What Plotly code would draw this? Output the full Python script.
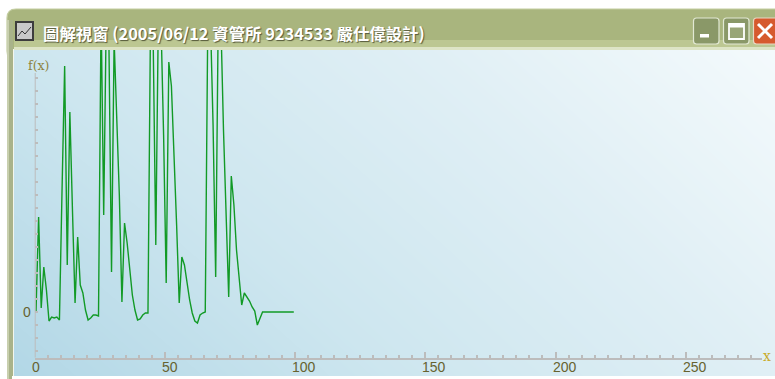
import plotly.graph_objects as go

W, H = 775, 379
sample_x = [i + 0.5 for i in range(100)]
sample_y = [0, 95, 4, 45, 22, -9, -5, -6, -5, -8,
            122, 246, 47, 200, 102, 9, 75, 27, 19, 2,
            -8, -6, -3, -3, -4, 300, 97, 300, 270, 40,
            272, 197, 117, 10, 89, 69, 42, 17, 2, -8,
            -7, -3, -1, -1, 300, 272, 67, 300, 290, 177,
            29, 250, 226, 162, 87, 9, 55, 47, 27, 12,
            -1, -9, -11, -3, -1, 0, 300, 292, 187, 35,
            300, 290, 182, 87, 15, 136, 107, 62, 37, 7,
            19, 15, 11, 5, 1, -13, -6, 0, 0, 0,
            0, 0, 0, 0, 0, 0, 0, 0, 0, 0]
x_major = [0, 50, 100, 150, 200, 250]
x_labels = ["0", "50", "100", "150", "200", "250"]
y_ticks = [-39, -26, -13, 0, 13, 26, 39, 52, 65, 78, 91, 104, 117, 130, 143, 156, 169, 182, 195, 208, 221, 234]
title = "圖解視窗 (2005/06/12 資管所 9234533 嚴仕偉設計)"

def px(x): return x / W
def py(y): return 1 - y / H
def rect(x0, y0, x1, y1, fill, line=None, lw=0, layer="below"):
    return dict(type="rect", xref="paper", yref="paper", x0=px(x0), x1=px(x1), y0=py(y0), y1=py(y1),
                fillcolor=fill, line=dict(color=line or fill, width=lw), layer=layer)
def seg(x0, y0, x1, y1, color, lw=1, layer="above"):
    return dict(type="line", xref="paper", yref="paper", x0=px(x0), x1=px(x1), y0=py(y0), y1=py(y1),
                line=dict(color=color, width=lw), layer=layer)
def rounded(x0, y0, x1, y1, r, fill, line, lw=1.2, layer="above"):
    a, b, c, d = px(x0), px(x1), py(y0), py(y1)
    rx, ry = r / W, r / H
    p = (f"M{a+rx},{c} L{b-rx},{c} Q{b},{c} {b},{c-ry} L{b},{d+ry} Q{b},{d} {b-rx},{d} "
         f"L{a+rx},{d} Q{a},{d} {a},{d+ry} L{a},{c-ry} Q{a},{c} {a+rx},{c} Z")
    return dict(type="path", xref="paper", yref="paper", path=p, fillcolor=fill, line=dict(color=line, width=lw), layer=layer)

fig = go.Figure()
fig.add_trace(go.Heatmap(z=[[0, 0.7], [0.35, 1]], x=[0, 1], y=[0, 1], zsmooth="best", showscale=False,
                         hoverinfo="skip", zmin=0, zmax=1,
                         colorscale=[[0, "#b2d7e6"], [0.35, "#cde6ef"], [0.7, "#e0eff5"], [1, "#f4fafc"]],
                         xaxis="x", yaxis="y"))
fig.add_trace(go.Scatter(x=sample_x, y=sample_y, mode="lines", line=dict(color="#129a26", width=1.4),
                         xaxis="x2", yaxis="y2", hoverinfo="skip"))

x0_px, x1_px, ytop, ybot = 34.7, 762.0, 50.0, 357.7
label_font = dict(family="Liberation Sans", size=14, color="#66622f")
annots = [
    dict(x=v, y=py(367), xref="x2", yref="paper", xanchor="left", yanchor="middle", xshift=-5, showarrow=False,
         text=t, font=label_font)
    for v, t in zip(x_major, x_labels)
]
annots += [
    dict(x=px(26.5), y=0, xref="paper", yref="y2", xanchor="center", yanchor="middle", showarrow=False,
         text="0", font=label_font),
    dict(x=px(41), y=py(32.5), xref="paper", yref="paper", xanchor="left", yanchor="middle", showarrow=False,
         text=title, font=dict(family="Noto Sans CJK TC", size=16.4, color="white", weight="bold",
                               shadow="1px 1px 1px #55593a")),
    dict(x=px(38), y=py(65.5), xref="paper", yref="paper", xanchor="center", yanchor="middle", showarrow=False,
         text="f(x)", font=dict(family="DejaVu Serif", size=12.5, color="#8d8340")),
    dict(x=px(767), y=py(355.5), xref="paper", yref="paper", xanchor="center", yanchor="middle", showarrow=False,
         text="x", font=dict(family="DejaVu Serif", size=14, color="#c9ac2c")),
]
fig.update_layout(
    width=W, height=H, margin=dict(l=0, r=0, t=0, b=0, pad=0, autoexpand=False),
    paper_bgcolor="white", plot_bgcolor="rgba(0,0,0,0)", showlegend=False,
    xaxis=dict(domain=[px(14), 1], range=[0, 1], visible=False, fixedrange=True),
    yaxis=dict(domain=[py(376.5), py(50)], range=[0, 1], visible=False, fixedrange=True),
    xaxis2=dict(domain=[px(x0_px), px(x1_px)], range=[0, (x1_px - x0_px) / 2.604], anchor="y2",
                tickvals=x_major, showticklabels=False, ticks="inside", ticklen=6, tickcolor="#bcbcbc", tickwidth=2,
                minor=dict(dtick=5, ticks="inside", ticklen=3, tickcolor="#bcbcbc", tickwidth=1.5),
                showgrid=False, zeroline=False, showline=True, linecolor="#bcbcbc", linewidth=2, fixedrange=True),
    yaxis2=dict(domain=[py(ybot), py(ytop)], range=[312 - ybot, 312 - ytop], anchor="x2",
                tickmode="array", tickvals=y_ticks, showticklabels=False, ticks="inside", ticklen=3,
                tickcolor="#bcbcbc", tickwidth=1.5, showgrid=False, zeroline=False, showline=False, fixedrange=True),
    shapes=[
        rounded(7, 9, 790, 60, 9, "#a9b57e", "#c3cda0", 1.2, "below"),
        rect(7, 20, 13, 379, "#a9b38a", layer="below"),
        rect(7, 20, 9, 379, "#c8cfae", layer="below"),
        rect(13, 49, 14, 379, "#f4f6ec", layer="below"),
        rect(14, 40, 775, 47, "#bcc792", layer="below"),
        rect(14, 47, 775, 50, "#dde4c6", layer="below"),
        rect(12, 376, 775, 379, "white", layer="above"),
        dict(type="line", xref="x2", yref="y2", x0=0, x1=0, y0=312 - ybot, y1=239,
             line=dict(color="#bcbcbc", width=2), layer="above"),
        rect(15, 21, 34, 41, "#3d3d3d", layer="above"),
        rect(17, 23, 32, 39, "#c9c9c9", layer="above"),
        seg(18, 36, 22, 31, "#333333", 1), seg(22, 31, 25, 34, "#333333", 1), seg(25, 34, 31, 27, "#333333", 1),
        rounded(693.5, 18, 719, 44, 3, "#8a9868", "#e2e8d4"),
        rect(700, 34, 709, 37.5, "white", layer="above"),
        rounded(723.5, 18, 749, 44, 3, "#8a9868", "#e2e8d4"),
        rect(729, 24, 744, 39, "#99a577", "white", 1.8, layer="above"),
        rect(729, 24, 744, 27.5, "white", layer="above"),
        rounded(753.5, 18, 785, 44, 3, "#d65a2e", "#e8d8c4"),
        seg(758, 24, 772, 38, "white", 3), seg(772, 24, 758, 38, "white", 3),
    ],
    annotations=annots,
)
fig.write_html("out.html", config=dict(displayModeBar=False),
               post_script="document.body.style.margin='0';document.body.style.overflow='hidden';")
